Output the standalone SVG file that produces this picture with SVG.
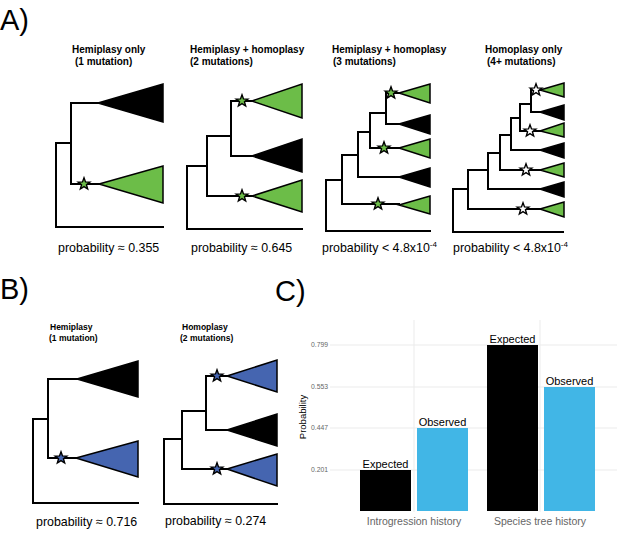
<svg xmlns="http://www.w3.org/2000/svg" xmlns:xlink="http://www.w3.org/1999/xlink" width="617" height="536" viewBox="0 0 617 536">
<style>
.plabel{font-family:"Liberation Sans",Arial,sans-serif;font-size:29px;fill:#000}
.ttl{font-family:"Liberation Sans",Arial,sans-serif;font-size:10px;font-weight:bold;fill:#000}
.ttlb{font-family:"Liberation Sans",Arial,sans-serif;font-size:8.5px;font-weight:bold;fill:#000}
.prob{font-family:"Liberation Sans",Arial,sans-serif;font-size:12.4px;fill:#000}
.br{fill:none;stroke:#000;stroke-width:2;stroke-linecap:square;stroke-linejoin:miter}
.tb{fill:#000;stroke:#000;stroke-width:1.5;stroke-linejoin:miter}
.tg{fill:#6cbd48;stroke:#000;stroke-width:1.5;stroke-linejoin:miter}
.tu{fill:#4565b0;stroke:#000;stroke-width:1.5;stroke-linejoin:miter}
.sg{fill:#6cbd48;stroke:#000;stroke-width:1.4}
.su{fill:#4565b0;stroke:#000;stroke-width:1.4}
.sw{fill:#fff;stroke:#000;stroke-width:1.4}
.grid{stroke:#ebebeb;stroke-width:1;fill:none}
.ytick{font-family:"Liberation Sans",Arial,sans-serif;font-size:6.8px;fill:#666;text-anchor:end}
.xtick{font-family:"Liberation Sans",Arial,sans-serif;font-size:10.5px;fill:#666;text-anchor:middle}
.blab{font-family:"Liberation Sans",Arial,sans-serif;font-size:11px;fill:#000;text-anchor:middle}
.ylab{font-family:"Liberation Sans",Arial,sans-serif;font-size:9.5px;fill:#000;text-anchor:middle}
</style>
<defs>
<path id="star" d="M0,-6.2 L1.5,-2.1 L5.9,-1.9 L2.45,0.8 L3.64,5.0 L0,2.6 L-3.64,5.0 L-2.45,0.8 L-5.9,-1.9 L-1.5,-2.1 Z"/>
</defs>
<rect width="617" height="536" fill="#fff"/>

<text class="plabel" x="0" y="30">A)</text>
<text class="plabel" x="0" y="299">B)</text>
<text class="plabel" x="275" y="301">C)</text>

<!-- Panel A tree 1 -->
<g id="A1">
<text class="ttl" x="72" y="53">Hemiplasy only</text>
<text class="ttl" x="75" y="65">(1 mutation)</text>
<g id="A1-branches">
<path class="br" d="M163,227 H56 V143 H71 M71,103 V184 M71,103 H98 M71,184 H99"/>
</g>
<g id="A1-clade1"><polygon class="tb" points="98,103 163,84 163,122"/></g>
<g id="A1-clade2"><polygon class="tg" points="99,184 163,166 163,203"/></g>
<use href="#star" xlink:href="#star" x="84" y="184" class="sg"/>
<text class="prob" x="58" y="252">probability ≈ 0.355</text>
</g>

<!-- Panel A tree 2 -->
<g id="A2">
<text class="ttl" x="190" y="53">Hemiplasy + homoplasy</text>
<text class="ttl" x="190" y="65">(2 mutations)</text>
<g id="A2-branches">
<path class="br" d="M302,229 H187 V166 H207 M207,136 V196 M207,136 H231 M231,101 V156 M231,101 H252 M231,156 H252 M207,196 H252"/>
</g>
<g id="A2-clade1"><polygon class="tg" points="252,101 302,84 302,118"/></g>
<g id="A2-clade2"><polygon class="tb" points="252,156 302,139 302,172"/></g>
<g id="A2-clade3"><polygon class="tg" points="252,196 302,180 302,212"/></g>
<use href="#star" xlink:href="#star" x="242" y="101" class="sg"/>
<use href="#star" xlink:href="#star" x="242" y="196" class="sg"/>
<text class="prob" x="191" y="252">probability ≈ 0.645</text>
</g>

<!-- Panel A tree 3 -->
<g id="A3">
<text class="ttl" x="332" y="53">Hemiplasy + homoplasy</text>
<text class="ttl" x="333" y="65">(3 mutations)</text>
<g id="A3-branches">
<path class="br" d="M430,231 H326 V180 H342 M342,155 V204 M342,204 H399 M342,155 H358 M358,132 V177 M358,177 H399 M358,132 H370 M370,113 V148 M370,148 H399 M370,113 H386 M386,93 V124 M386,93 H399 M386,124 H399"/>
</g>
<g id="A3-clade1"><polygon class="tg" points="399,93 430,84 430,103"/></g>
<g id="A3-clade2"><polygon class="tb" points="399,124 430,115 430,134"/></g>
<g id="A3-clade3"><polygon class="tg" points="399,148 430,139 430,158"/></g>
<g id="A3-clade4"><polygon class="tb" points="399,177 430,168 430,187"/></g>
<g id="A3-clade5"><polygon class="tg" points="399,205 430,196 430,214"/></g>
<use href="#star" xlink:href="#star" x="391" y="93" class="sg"/>
<use href="#star" xlink:href="#star" x="384" y="148" class="sg"/>
<use href="#star" xlink:href="#star" x="378" y="204" class="sg"/>
<text class="prob" x="322" y="252">probability &lt; 4.8x10<tspan font-size="8" dy="-5">-4</tspan></text>
</g>

<!-- Panel A tree 4 -->
<g id="A4">
<text class="ttl" x="485" y="53">Homoplasy only</text>
<text class="ttl" x="487" y="65">(4+ mutations)</text>
<g id="A4-branches">
<path class="br" d="M563,232 H453 V189 H468 M468,170 V209 M468,209 H540 M468,170 H488 M488,153 V189 M488,189 H540 M488,153 H500 M500,135 V170 M500,170 H540 M500,135 H511 M511,118 V150 M511,150 H540 M511,118 H520 M520,104 V131 M520,131 H540 M520,104 H531 M531,90 V112 M531,112 H540 M531,90 H540"/>
</g>
<g id="A4-clade1"><polygon class="tg" points="540,90 564,83 564,97"/></g>
<g id="A4-clade2"><polygon class="tb" points="540,112 564,105 564,120"/></g>
<g id="A4-clade3"><polygon class="tg" points="540,131 564,123 564,137"/></g>
<g id="A4-clade4"><polygon class="tb" points="540,150 564,143 564,158"/></g>
<g id="A4-clade5"><polygon class="tg" points="540,170 564,163 564,177"/></g>
<g id="A4-clade6"><polygon class="tb" points="540,189 564,182 564,197"/></g>
<g id="A4-clade7"><polygon class="tg" points="540,209 564,202 564,217"/></g>
<use href="#star" xlink:href="#star" x="536" y="90" class="sw"/>
<use href="#star" xlink:href="#star" x="530" y="131" class="sw"/>
<use href="#star" xlink:href="#star" x="526" y="170" class="sw"/>
<use href="#star" xlink:href="#star" x="523" y="209" class="sw"/>
<text class="prob" x="453" y="252">probability &lt; 4.8x10<tspan font-size="8" dy="-5">-4</tspan></text>
</g>

<!-- Panel B tree 1 -->
<g id="B1">
<text class="ttlb" x="50" y="330">Hemiplasy</text>
<text class="ttlb" x="49" y="341">(1 mutation)</text>
<g id="B1-branches">
<path class="br" d="M138,503 H33 V419 H48 M48,379 V458 M48,379 H77 M48,458 H76"/>
</g>
<g id="B1-clade1"><polygon class="tb" points="77,379 138,361 138,397"/></g>
<g id="B1-clade2"><polygon class="tu" points="76,458 138,441 138,477"/></g>
<use href="#star" xlink:href="#star" x="61" y="458" class="su"/>
<text class="prob" x="36" y="526">probability ≈ 0.716</text>
</g>

<!-- Panel B tree 2 -->
<g id="B2">
<text class="ttlb" x="182" y="330">Homoplasy</text>
<text class="ttlb" x="180" y="341">(2 mutations)</text>
<g id="B2-branches">
<path class="br" d="M277,504 H164 V439 H182 M182,411 V469 M182,469 H227 M182,411 H206 M206,376 V430 M206,376 H227 M206,430 H227"/>
</g>
<g id="B2-clade1"><polygon class="tu" points="227,376 277,360 277,392"/></g>
<g id="B2-clade2"><polygon class="tb" points="227,430 277,414 277,446"/></g>
<g id="B2-clade3"><polygon class="tu" points="227,469 277,454 277,486"/></g>
<use href="#star" xlink:href="#star" x="217" y="376" class="su"/>
<use href="#star" xlink:href="#star" x="217" y="469" class="su"/>
<text class="prob" x="165" y="525">probability ≈ 0.274</text>
</g>

<!-- Panel C -->
<g id="C-chart">
<g id="C-grid">
<path class="grid" d="M330,345 H617 M330,387 H617 M330,428 H617 M330,470 H617 M414,320 V512 M540,320 V512"/>
</g>
<g id="C-yaxis">
<text class="ytick" x="328" y="347">0.799</text>
<text class="ytick" x="328" y="389">0.553</text>
<text class="ytick" x="328" y="430">0.447</text>
<text class="ytick" x="328" y="472">0.201</text>
<text class="ylab" transform="translate(306,417) rotate(-90)">Probability</text>
</g>
<g id="C-bar1"><rect x="360" y="470" width="51" height="41" fill="#000"/><text class="blab" x="385.5" y="468">Expected</text></g>
<g id="C-bar2"><rect x="417" y="428" width="51" height="83" fill="#41b6e6"/><text class="blab" x="442.5" y="426">Observed</text></g>
<g id="C-bar3"><rect x="487" y="345" width="51" height="166" fill="#000"/><text class="blab" x="512.5" y="343">Expected</text></g>
<g id="C-bar4"><rect x="544" y="387" width="51" height="124" fill="#41b6e6"/><text class="blab" x="569.5" y="385">Observed</text></g>
<text class="xtick" x="414" y="525">Introgression history</text>
<text class="xtick" x="540" y="525">Species tree history</text>
</g>
</svg>
